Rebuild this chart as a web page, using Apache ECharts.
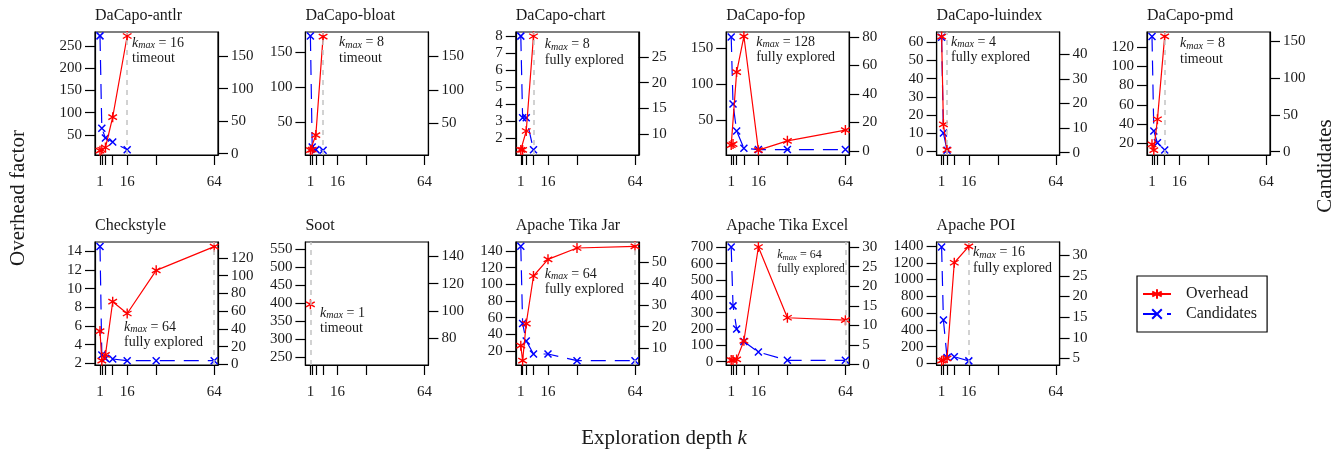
<!DOCTYPE html>
<html><head><meta charset="utf-8">
<script src="https://cdn.jsdelivr.net/npm/echarts@6/dist/echarts.min.js"></script>
<style>html,body{margin:0;padding:0;background:#fff}#c{width:1336px;height:451px}</style>
</head><body><div id="c"></div>
<script>
// ---------------- DATA ----------------
const depths = [1, 2, 4, 8, 16, 32, 64];
const xTickValues = [1, 2, 4, 8, 16, 32, 64];
const xTickLabels = [1, 16, 64];
const xRange = [-1.76, 66.1];

const panelNames = ['DaCapo-antlr', 'DaCapo-bloat', 'DaCapo-chart', 'DaCapo-fop', 'DaCapo-luindex', 'DaCapo-pmd',
  'Checkstyle', 'Soot', 'Apache Tika Jar', 'Apache Tika Excel', 'Apache POI'];
const kmaxValues = [16, 8, 8, 128, 4, 8, 64, 1, 64, 64, 16];
const statusTexts = ['timeout', 'timeout', 'fully explored', 'fully explored', 'fully explored', 'timeout',
  'fully explored', 'timeout', 'fully explored', 'fully explored', 'fully explored'];

const overheadAntlr = [15, 17, 22, 90, 272];
const candidatesAntlr = [181, 39, 24, 18, 6];
const overheadBloat = [9.5, 10, 31, 172];
const candidatesBloat = [180, 15, 11, 10];
const overheadChart = [1.32, 1.32, 2.43, 8.0];
const candidatesChart = [29, 13.2, 13.2, 7.0];
const overheadFop = [15, 16.5, 117, 167, 8, 21, 36];
const candidatesFop = [80, 33, 14, 2, 1, 1, 1];
const overheadLuindex = [63, 15, 1];
const candidatesLuindex = [47, 8, 1];
const overheadPmd = [19, 13, 45, 131];
const candidatesPmd = [156, 28, 12, 2.3];
const overheadCheckstyle = [5.45, 2.28, 2.9, 8.6, 7.34, 11.96, 14.5];
const candidatesCheckstyle = [133, 10.5, 6.75, 6, 4.1, 4.1, 4.1];
const overheadSoot = [397];
const candidatesSoot = [];
const overheadTikaJar = [26.4, 8.4, 53, 110, 130, 143.6, 145.6];
const candidatesTikaJar = [57.2, 21.5, 13.4, 7.4, 7.4, 4.3, 4.3];
const overheadTikaExcel = [10, 10, 14, 128, 702, 269, 254];
const candidatesTikaExcel = [30, 15, 9.1, 5.9, 3.2, 1.1, 1.1];
const overheadPoi = [32, 40, 60, 1200, 1396];
const candidatesPoi = [32, 14.3, 5.2, 5.4, 4.4];

// tick labels (left = overhead, right = candidates)
const leftTicksAntlr = [50, 100, 150, 200, 250];
const rightTicksAntlr = [0, 50, 100, 150];
const leftTicksBloat = [50, 100, 150];
const rightTicksBloat = [50, 100, 150];
const leftTicksChart = [2, 3, 4, 5, 6, 7, 8];
const rightTicksChart = [10, 15, 20, 25];
const leftTicksFop = [50, 100, 150];
const rightTicksFop = [0, 20, 40, 60, 80];
const leftTicksLuindex = [0, 10, 20, 30, 40, 50, 60];
const rightTicksLuindex = [0, 10, 20, 30, 40];
const leftTicksPmd = [20, 40, 60, 80, 100, 120];
const rightTicksPmd = [0, 50, 100, 150];
const leftTicksCheckstyle = [2, 4, 6, 8, 10, 12, 14];
const rightTicksCheckstyle = [0, 20, 40, 60, 80, 100, 120];
const leftTicksSoot = [250, 300, 350, 400, 450, 500, 550];
const rightTicksSoot = [60, 80, 100, 120, 140];
const leftTicksTikaJar = [20, 40, 60, 80, 100, 120, 140];
const rightTicksTikaJar = [10, 20, 30, 40, 50];
const leftTicksTikaExcel = [0, 100, 200, 300, 400, 500, 600, 700];
const rightTicksTikaExcel = [0, 5, 10, 15, 20, 25, 30];
const leftTicksPoi = [0, 200, 400, 600, 800, 1000, 1200, 1400];
const rightTicksPoi = [5, 10, 15, 20, 25, 30];

// axis ranges
const leftRanges = [[5.2, 281], [2.4, 178.6], [1.02, 8.25], [1.2, 173], [-1.8, 65.5], [7.9, 135.5],
  [1.82, 15.0], [228.8, 570], [3.25, 150.8], [-20.3, 732.6], [-19.8, 1447.6]];
const rightRanges = [[-2, 187], [3, 186], [6.0, 29.8], [-2.8, 83.5], [-0.95, 49.1], [-4.5, 162.2],
  [-0.75, 138], [60.5, 150.5], [2.3, 59.2], [-0.1, 31.3], [3.4, 33.2]];

// ---------------- LAYOUT ----------------
const colLeft = [95, 305.4, 515.8, 726.2, 936.6, 1147];
const rowTop = [32, 242];
const W = 123, H = 123;
// annotation offsets relative to the grid's top-left corner: [dx, dy, fontSize]
const noteOffsets = [[37, 4, 14], [33.6, 3.5, 14], [29, 5.5, 14], [30, 3, 14], [14.4, 3, 14], [33, 4.5, 14],
  [29, 78, 14], [14.6, 64, 14], [29, 25, 14], [51, 7, 12], [36.4, 3.5, 14]];

const FONT = '"Liberation Serif", "DejaVu Serif", serif';
const TXT = '#1a1a1a';
const ASTERISK = 'path://M5,0L5,10M0.67,2.5L9.33,7.5M0.67,7.5L9.33,2.5';
const XMARK = 'path://M0,0L10,10M10,0L0,10';

const panels = [
  [overheadAntlr, candidatesAntlr, leftTicksAntlr, rightTicksAntlr],
  [overheadBloat, candidatesBloat, leftTicksBloat, rightTicksBloat],
  [overheadChart, candidatesChart, leftTicksChart, rightTicksChart],
  [overheadFop, candidatesFop, leftTicksFop, rightTicksFop],
  [overheadLuindex, candidatesLuindex, leftTicksLuindex, rightTicksLuindex],
  [overheadPmd, candidatesPmd, leftTicksPmd, rightTicksPmd],
  [overheadCheckstyle, candidatesCheckstyle, leftTicksCheckstyle, rightTicksCheckstyle],
  [overheadSoot, candidatesSoot, leftTicksSoot, rightTicksSoot],
  [overheadTikaJar, candidatesTikaJar, leftTicksTikaJar, rightTicksTikaJar],
  [overheadTikaExcel, candidatesTikaExcel, leftTicksTikaExcel, rightTicksTikaExcel],
  [overheadPoi, candidatesPoi, leftTicksPoi, rightTicksPoi]
];

const grids = [], xAxes = [], yAxes = [], series = [], titles = [], graphics = [];
const axisLineStyle = { color: '#000', width: 1.2 };
const labelStyle = { fontFamily: FONT, fontSize: 15, color: TXT, formatter: v => String(v) };

panels.forEach((p, i) => {
  const [ov, cand, lt, rt] = p;
  const row = i < 6 ? 0 : 1;
  const col = i < 6 ? i : i - 6;
  const left = colLeft[col], top = rowTop[row];
  grids.push({ left, top, width: W, height: H, show: true, borderColor: '#000', borderWidth: 1.2,
    backgroundColor: 'transparent', containLabel: false, outerBoundsMode: 'none' });
  titles.push({ text: panelNames[i], left: left, top: top - 24, padding: 0,
    textStyle: { fontFamily: FONT, fontSize: 16, fontWeight: 'normal', color: TXT } });
  xAxes.push({ gridIndex: i, type: 'value', min: xRange[0], max: xRange[1],
    axisLine: { onZero: false, lineStyle: axisLineStyle },
    axisTick: { customValues: xTickValues, length: 10, inside: false, lineStyle: axisLineStyle },
    axisLabel: Object.assign({ customValues: xTickLabels, margin: 20 }, labelStyle),
    splitLine: { show: false } });
  yAxes.push({ gridIndex: i, type: 'value', position: 'left', min: leftRanges[i][0], max: leftRanges[i][1],
    axisLine: { show: true, onZero: false, lineStyle: axisLineStyle },
    axisTick: { show: true, customValues: lt, length: 10, inside: false, lineStyle: axisLineStyle },
    axisLabel: Object.assign({ customValues: lt, margin: 13 }, labelStyle),
    splitLine: { show: false } });
  yAxes.push({ gridIndex: i, type: 'value', position: 'right', min: rightRanges[i][0], max: rightRanges[i][1],
    axisLine: { show: true, onZero: false, lineStyle: axisLineStyle },
    axisTick: { show: true, customValues: rt, length: 10, inside: false, lineStyle: axisLineStyle },
    axisLabel: Object.assign({ customValues: rt, margin: 13 }, labelStyle),
    splitLine: { show: false } });

  const candSeries = {
    name: 'Candidates', type: 'line', xAxisIndex: i, yAxisIndex: 2 * i + 1, z: 2,
    data: cand.map((v, j) => [depths[j], v]),
    symbol: XMARK, symbolSize: 7, symbolKeepAspect: true,
    itemStyle: { color: '#0000ff', borderColor: '#0000ff', borderWidth: 1.5 },
    lineStyle: { color: '#0000ff', width: 1.2, type: [15, 9] },
    animation: false
  };
  if (kmaxValues[i] <= xRange[1]) {
    candSeries.markLine = { silent: true, symbol: ['none', 'none'], label: { show: false },
      lineStyle: { color: '#c4c4c4', width: 1.5, type: [5, 5] },
      data: [{ xAxis: kmaxValues[i] }], animation: false };
  }
  series.push(candSeries);
  series.push({
    name: 'Overhead', type: 'line', xAxisIndex: i, yAxisIndex: 2 * i, z: 3,
    data: ov.map((v, j) => [depths[j], v]),
    symbol: ASTERISK, symbolSize: 10, symbolKeepAspect: true,
    itemStyle: { color: '#ff0000', borderColor: '#ff0000', borderWidth: 1.4 },
    lineStyle: { color: '#ff0000', width: 1.2 },
    animation: false
  });

  const [dx, dy, fs] = noteOffsets[i];
  graphics.push({ type: 'text', left: left + dx, top: top + dy, z: 10,
    style: {
      text: '{i|k}{s|max}{n| = ' + kmaxValues[i] + '}\n{n|' + statusTexts[i] + '}',
      rich: {
        i: { fontFamily: FONT, fontSize: fs, fontStyle: 'italic', lineHeight: fs + 1.5, fill: TXT },
        s: { fontFamily: FONT, fontSize: fs * 0.72, fontStyle: 'italic', lineHeight: fs * 0.55, verticalAlign: 'bottom', fill: TXT },
        n: { fontFamily: FONT, fontSize: fs, lineHeight: fs + 1.5, fill: TXT }
      }
    } });
});

graphics.push({ type: 'text', x: 18, y: 198, rotation: Math.PI / 2,
  style: { text: 'Overhead factor', fontFamily: FONT, fontSize: 21, fill: TXT, align: 'center', verticalAlign: 'middle' } });
graphics.push({ type: 'text', x: 1325, y: 166, rotation: Math.PI / 2,
  style: { text: 'Candidates', fontFamily: FONT, fontSize: 21, fill: TXT, align: 'center', verticalAlign: 'middle' } });
graphics.push({ type: 'text', x: 664, y: 438,
  style: { text: 'Exploration depth {k|k}', fontFamily: FONT, fontSize: 21, fill: TXT, align: 'center', verticalAlign: 'middle',
    rich: { k: { fontFamily: FONT, fontSize: 21, fontStyle: 'italic', fill: TXT } } } });

const chart = echarts.init(document.getElementById('c'), null, { renderer: 'canvas' });
chart.setOption({
  animation: false,
  backgroundColor: '#fff',
  title: titles,
  grid: grids,
  xAxis: xAxes,
  yAxis: yAxes,
  series: series,
  graphic: graphics,
  legend: {
    orient: 'vertical', left: 1137, top: 276, padding: [10, 10, 10, 5],
    borderColor: '#000', borderWidth: 1.2, itemWidth: 28, itemHeight: 12, itemGap: 4,
    textStyle: { fontFamily: FONT, fontSize: 16, color: TXT, padding: [0, 0, 0, 10] },
    selectedMode: false,
    data: ['Overhead', 'Candidates']
  }
});
</script></body></html>
